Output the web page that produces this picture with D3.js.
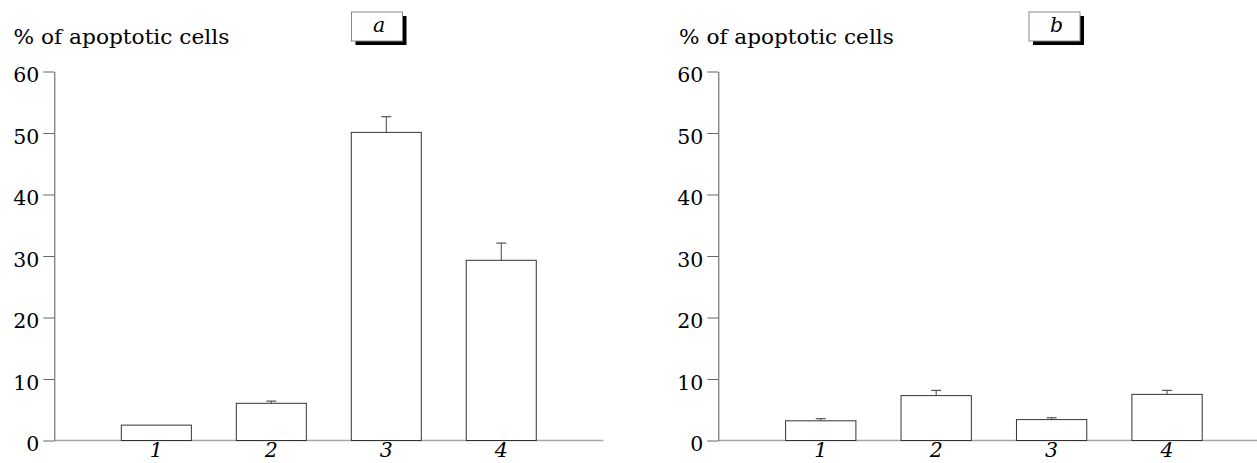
<!DOCTYPE html>
<html><head><meta charset="utf-8">
<script src="https://cdn.jsdelivr.net/npm/d3@7"></script>
<style>
html,body{margin:0;padding:0;background:#fff;}
svg{display:block;}
</style></head>
<body>
<svg id="chart" width="1257" height="463"></svg>
<script>
const categories = ["1", "2", "3", "4"];
const valuesA = [2.5, 6.05, 50.1, 29.3];
const errorsA = [0, 0.35, 2.55, 2.8];
const valuesB = [3.2, 7.3, 3.4, 7.5];
const errorsB = [0.35, 0.85, 0.3, 0.65];
const yTicks = [0, 10, 20, 30, 40, 50, 60];
const yTitle = "% of apoptotic cells";
const panelLetters = ["a", "b"];

const svg = d3.select("#chart");
const FS = 20.5;
const FONT = "DejaVu Serif";

const y = d3.scaleLinear().domain([0, 60]).range([440.5, 71.5]);

function panel(cfg) {
  const g = svg.append("g");
  const x = d3.scaleBand().domain(categories)
    .range([cfg.x0, cfg.x1]).paddingInner(0.391).paddingOuter(0.583);

  g.append("line")
    .attr("x1", cfg.x0).attr("x2", cfg.x1)
    .attr("y1", y(0)).attr("y2", y(0))
    .attr("stroke", "#a6a6a6").attr("stroke-width", 1.6);

  const ya = g.append("g").attr("transform", `translate(${cfg.x0},0)`)
    .call(d3.axisLeft(y).tickValues(yTicks).tickSize(11).tickSizeOuter(0).tickPadding(4));
  ya.attr("font-family", FONT).attr("font-size", FS);
  ya.select(".domain").attr("stroke", "#555").attr("stroke-width", 1);
  ya.selectAll(".tick line").attr("stroke", "#666").attr("stroke-width", 1);
  ya.selectAll(".tick text")
    .attr("x", -15).attr("dy", "0.5em")
    .attr("fill", "#000").attr("text-anchor", "end");

  g.selectAll("rect.bar").data(cfg.values).join("rect")
    .attr("class", "bar")
    .attr("x", (d, i) => x(categories[i]))
    .attr("width", x.bandwidth())
    .attr("y", d => y(d))
    .attr("height", d => y(0) - y(d))
    .attr("fill", "#fff").attr("stroke", "#333").attr("stroke-width", 1);

  const eb = cfg.values.map((v, i) => ({v, e: cfg.errors[i], c: categories[i]})).filter(d => d.e > 0);
  g.selectAll("line.err").data(eb).join("line")
    .attr("class", "err")
    .attr("x1", d => x(d.c) + x.bandwidth() / 2).attr("x2", d => x(d.c) + x.bandwidth() / 2)
    .attr("y1", d => y(d.v)).attr("y2", d => y(d.v + d.e))
    .attr("stroke", "#444").attr("stroke-width", 1);
  g.selectAll("line.cap").data(eb).join("line")
    .attr("class", "cap")
    .attr("x1", d => x(d.c) + x.bandwidth() / 2 - 5).attr("x2", d => x(d.c) + x.bandwidth() / 2 + 5)
    .attr("y1", d => y(d.v + d.e)).attr("y2", d => y(d.v + d.e))
    .attr("stroke", "#555").attr("stroke-width", 1.2);

  g.selectAll("text.cat").data(categories).join("text")
    .attr("class", "cat")
    .attr("x", d => x(d) + x.bandwidth() / 2).attr("y", 457)
    .attr("text-anchor", "middle").attr("font-size", FS).attr("font-style", "italic")
    .attr("font-family", FONT)
    .text(d => d);

  const t = g.append("text")
    .attr("font-size", FS).attr("font-family", FONT)
    .text(yTitle);
  const w = t.node().getComputedTextLength();
  t.attr("transform", `translate(${cfg.titleX},44) scale(${cfg.titleW / w},1)`);

  const bx = cfg.boxX, by = 12, bw = 51, bh = 29;
  g.append("rect").attr("x", bx + 4).attr("y", by + 4).attr("width", bw).attr("height", bh).attr("fill", "#000");
  g.append("rect").attr("x", bx).attr("y", by).attr("width", bw).attr("height", bh)
    .attr("fill", "#fff").attr("stroke", "#888").attr("stroke-width", 1);
  g.append("text")
    .attr("x", bx + bw / 2 + 2).attr("y", 32)
    .attr("text-anchor", "middle").attr("font-size", FS).attr("font-style", "italic")
    .attr("font-family", FONT)
    .text(cfg.letter);
}

panel({x0: 54.3, x1: 603.3, values: valuesA, errors: errorsA, titleX: 13.5, titleW: 216, boxX: 351.5, letter: panelLetters[0]});
panel({x0: 718.3, x1: 1269.5, values: valuesB, errors: errorsB, titleX: 679, titleW: 215, boxX: 1029, letter: panelLetters[1]});
</script>
</body></html>
